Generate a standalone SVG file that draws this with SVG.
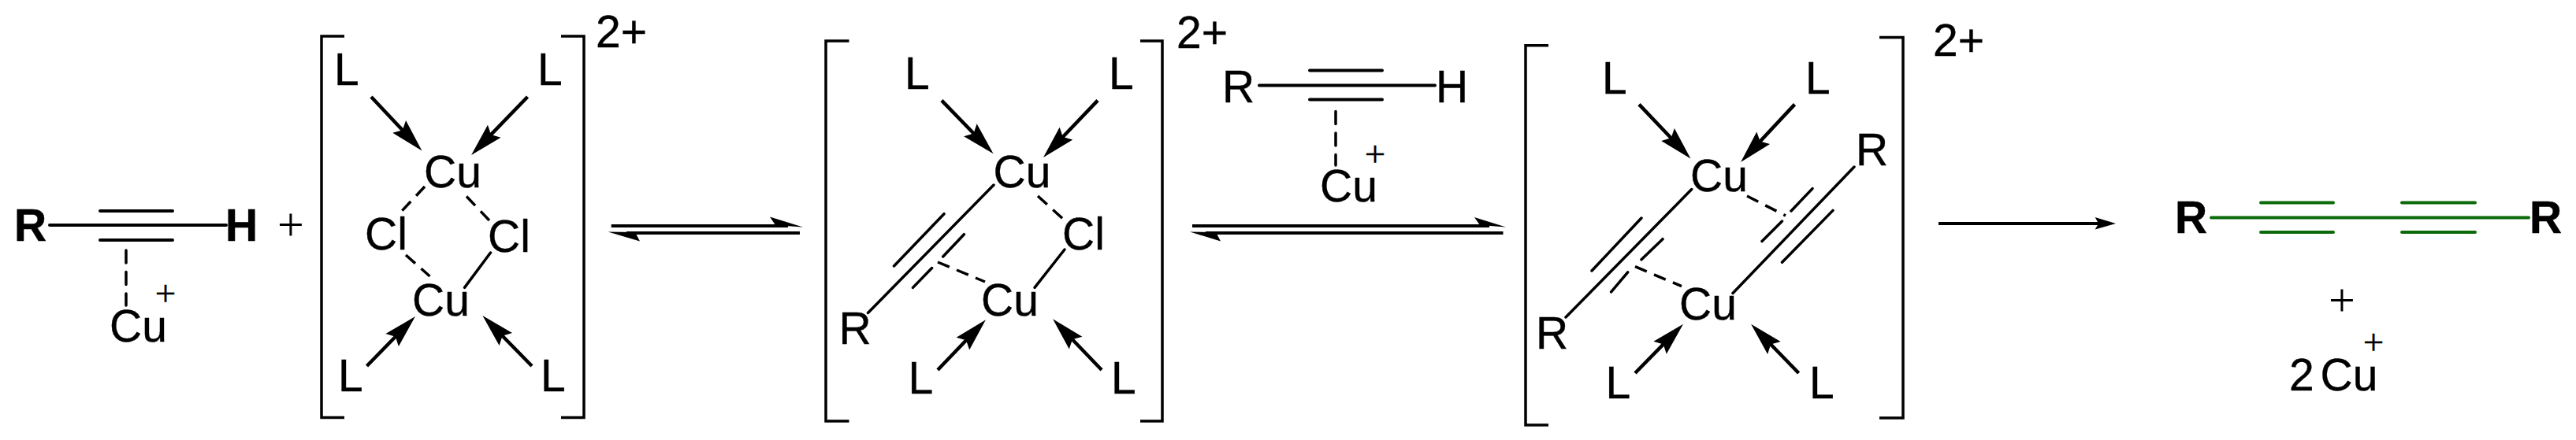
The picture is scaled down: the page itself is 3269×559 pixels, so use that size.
<svg xmlns="http://www.w3.org/2000/svg" width="3269" height="559" viewBox="0 0 3269 559">
<style>
text{font-family:"Liberation Sans",Arial,sans-serif;font-size:57px;fill:#000;stroke:#000;stroke-width:.4px}
.b{font-weight:bold}
.p{font-family:"Liberation Serif","Times New Roman",serif;font-size:60px;text-anchor:middle;stroke:none}
.s{font-family:"Liberation Serif","Times New Roman",serif;font-size:47px;text-anchor:middle}
.bond{fill:none;stroke:#000;stroke-width:3.5;stroke-linecap:round}
.tb{fill:none;stroke:#000;stroke-width:4;stroke-linecap:round}
.dash{fill:none;stroke:#000;stroke-width:3.5;stroke-dasharray:16 10}
.dv{fill:none;stroke:#000;stroke-width:3.5;stroke-linecap:round;stroke-dasharray:16 11.5}
.co{fill:none;stroke:#000;stroke-width:4.5;marker-end:url(#dative)}
.br{fill:none;stroke:#000;stroke-width:3.5}
.rx{fill:none;stroke:#000;stroke-width:3.8}
.g{fill:none;stroke:#0a6a0a;stroke-width:4;stroke-linecap:round}
</style>
<defs>
<marker id="dative" markerUnits="userSpaceOnUse" markerWidth="44" markerHeight="24" refX="13" refY="12" orient="auto">
<path d="M1,0.5 L43,12 L1,23.5 L7,12 Z" fill="#000"/>
</marker>
</defs>
<rect width="3269" height="559" fill="#fff"/>
<g id="connectors">
<path class="tb" d="M63,286H287M127,268H219M127,305H219"/>
<path class="dv" d="M160,318V388"/>
<path class="co" d="M471,123L514.9,169.7"/>
<path class="co" d="M669.5,123L618.9,175.4"/>
<path class="co" d="M465.5,465L506,423.5"/>
<path class="co" d="M675,465L633.4,422.5"/>
<path class="dash" d="M539,237L510,268"/>
<path class="dash" d="M592,249.5L622.5,281.6"/>
<path class="dash" d="M515,324L545.5,351"/>
<path class="bond" d="M622.5,321L589.5,365.4"/>
<path class="rx" d="M775.7,287H1000M1015,296H795"/>
<polygon points="1019,288.5 977,275.6 984,286" fill="#000"/>
<polygon points="771.5,294.5 812,306.6 806,295" fill="#000"/>
<path class="co" d="M1195,127.6L1239.7,173.8"/>
<path class="co" d="M1393,127.6L1344.7,178.3"/>
<path class="co" d="M1190,470L1230.2,428"/>
<path class="co" d="M1398,470L1356.8,427"/>
<path class="bond" d="M1261,235L1101.5,397.5M1198,271.7L1134.5,338M1223.4,297.7L1196.7,326M1182.6,340.5L1158.5,365.4"/>
<path class="dash" d="M1190,333L1250,358"/>
<path class="dash" d="M1317,249L1351,280"/>
<path class="bond" d="M1351,317L1313,365.4"/>
<path class="tb" d="M1598,108.4H1821M1662,89.5H1754M1662,126.6H1754"/>
<path class="dv" d="M1695,141.5V210"/>
<path class="rx" d="M1513,287H1890M1907.5,296H1530"/>
<polygon points="1911,288.5 1871,276 1878,286" fill="#000"/>
<polygon points="1510,294.5 1549,306.6 1543,295" fill="#000"/>
<path class="co" d="M2080,132.6L2124.8,179.7"/>
<path class="co" d="M2277.5,132.6L2229.5,184"/>
<path class="co" d="M2075,474L2115,433.2"/>
<path class="co" d="M2282.6,474L2243,433.3"/>
<path class="bond" d="M2146.7,240.6L1987,403M2083,277L2020,344M2110,303.7L2083,329.8M2065.7,345.8L2044.6,370.8"/>
<path class="dash" d="M2075,338.7L2134,363.6"/>
<path class="bond" d="M2353,212L2199,372.5M2326,267.4L2261.5,333.3M2300,239.6L2273,268M2261.5,281L2236,306.6"/>
<path class="dash" d="M2217,249L2266,274"/>
<path class="rx" d="M2460,284H2665"/>
<polygon points="2685,284 2658.7,276 2663,284 2658.7,291.5" fill="#000"/>
<path class="g" d="M2806,276.5H3209M2869,257.6H2961M2869,295H2961M3048,257.6H3141M3048,295H3141"/>
</g>
<g id="alkyne-cu-1">
<text class="b" x="18" y="305.5">R</text>
<text class="b" x="286" y="305.5">H</text>
<text x="139" y="434">Cu</text>
<text class="s" x="210" y="388">+</text>
</g>
<text id="plus-1" class="p" x="369" y="305">+</text>
<g id="complex-1">
<path class="br" d="M437,46H408V530.5H437M712,46H741V530.5H712"/>
<text x="756" y="59.5">2+</text>
<text x="424" y="108">L</text><text x="682" y="108">L</text>
<text x="429" y="497">L</text><text x="686" y="497">L</text>
<text x="538" y="238">Cu</text><text x="523" y="401">Cu</text>
<text x="463" y="317">Cl</text><text x="619" y="320">Cl</text>
</g>
<g id="complex-2">
<path class="br" d="M1077.5,52H1048V535H1077.5M1447,52H1475V535H1447"/>
<text x="1493" y="60.6">2+</text>
<text x="1148" y="112.6">L</text><text x="1407" y="112.6">L</text>
<text x="1152.5" y="500">L</text><text x="1410" y="500">L</text>
<text x="1260.5" y="238">Cu</text><text x="1245" y="401">Cu</text>
<text x="1348" y="317">Cl</text>
<text x="1064.5" y="437.4">R</text>
</g>
<g id="alkyne-cu-2">
<text x="1551" y="130">R</text>
<text x="1822" y="130">H</text>
<text x="1675" y="256">Cu</text>
<text class="s" x="1745" y="211">+</text>
</g>
<g id="complex-3">
<path class="br" d="M1965,57.8H1936V540H1965M2385,47.4H2415V531H2385"/>
<text x="2453" y="71">2+</text>
<text x="2033" y="118.7">L</text><text x="2291" y="118.7">L</text>
<text x="2037.5" y="506">L</text><text x="2296" y="506">L</text>
<text x="2145" y="243">Cu</text><text x="2131" y="406">Cu</text>
<text x="2355" y="210">R</text><text x="1949" y="443">R</text>
</g>
<g id="product">
<text class="b" x="2760" y="295.5">R</text>
<text class="b" x="3210" y="295.5">R</text>
<text class="p" x="2972" y="400.5">+</text>
<text x="2905" y="495.6" style="word-spacing:-8px">2 Cu</text>
<text class="s" x="3012" y="450">+</text>
</g>
</svg>
